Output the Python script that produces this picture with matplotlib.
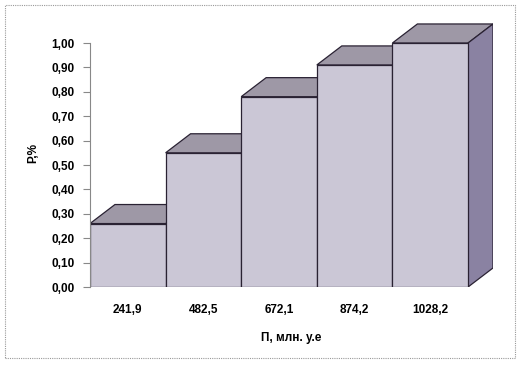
import matplotlib.pyplot as plt
from matplotlib.patches import Polygon, Rectangle
from matplotlib.ticker import FuncFormatter

# Data
categories = ['241,9', '482,5', '672,1', '874,2', '1028,2']
values = [0.26, 0.55, 0.78, 0.91, 1.00]

# 3D look: depth offset (in data units)
dx = 0.33
dy = 0.078

front_color = '#cbc7d6'
top_color = '#9e98a6'
side_color = '#8a82a2'
edge_color = '#2a2233'

plt.rcParams['font.family'] = ['Liberation Sans', 'DejaVu Sans']

fig = plt.figure(figsize=(5.2, 3.67), dpi=100)
ax = fig.add_axes([90 / 520, 80 / 367, 403 / 520, 1.1 * 244 / 367])

x = list(range(len(values)))

# top faces
for i, v in enumerate(values):
    top = Polygon([(i - 0.5, v), (i - 0.5 + dx, v + dy), (i + 0.5 + dx, v + dy), (i + 0.5, v)],
                  closed=True, facecolor=top_color, edgecolor=edge_color, linewidth=0.9, zorder=1)
    ax.add_patch(top)

# side face of the last bar
n = len(values) - 1
side = Polygon([(n + 0.5, 0), (n + 0.5 + dx, dy), (n + 0.5 + dx, values[n] + dy), (n + 0.5, values[n])],
               closed=True, facecolor=side_color, edgecolor=edge_color, linewidth=0.9, zorder=1)
ax.add_patch(side)

# front faces
ax.bar(x, values, width=1.0, color=front_color, edgecolor=edge_color, linewidth=0.9, zorder=2)

ax.set_xlim(-0.5, len(values) - 0.5 + dx)
ax.set_ylim(0, 1.1)
ax.set_yticks([i / 10 for i in range(11)])
ax.yaxis.set_major_formatter(FuncFormatter(lambda v, p: f'{v:.2f}'.replace('.', ',')))
ax.set_xticks(x)
ax.set_xticklabels(categories)

for s in ['top', 'right', 'bottom']:
    ax.spines[s].set_visible(False)
ax.spines['left'].set_bounds(0, 1)
ax.spines['left'].set_color('#888888')
ax.spines['left'].set_linewidth(0.8)

ax.tick_params(axis='y', length=5, width=0.8, color='#888888', pad=6, labelsize=8.5)
ax.tick_params(axis='x', length=0, pad=12, labelsize=8.5)
for lbl in ax.get_yticklabels() + ax.get_xticklabels():
    lbl.set_fontweight('bold')

ax.set_xlabel('П, млн. у.е', fontsize=8.5, fontweight='bold', labelpad=12)
ax.set_ylabel('P,%', fontsize=8.5, fontweight='bold', labelpad=9)

# outer border
fig.patches.append(Rectangle((5 / 520, 9 / 367), 510 / 520, 353 / 367, transform=fig.transFigure,
                             fill=False, edgecolor='#999999', linestyle=(0, (1, 1)), linewidth=0.8))

fig.savefig('out.png', dpi=100)
